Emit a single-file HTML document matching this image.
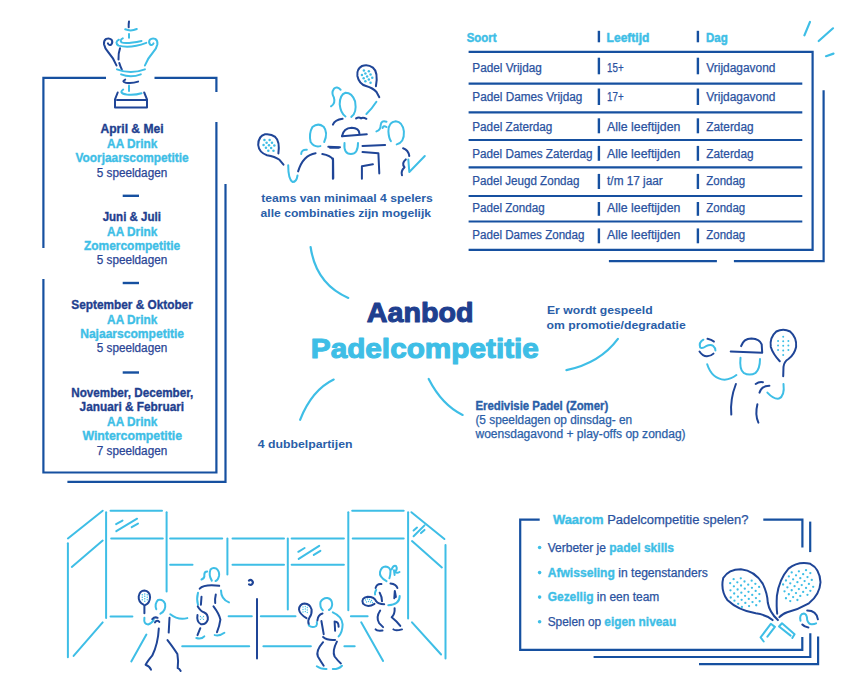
<!DOCTYPE html>
<html><head><meta charset="utf-8">
<style>
html,body{margin:0;padding:0;background:#fff;}
body{width:848px;height:698px;overflow:hidden;}
svg{display:block;font-family:"Liberation Sans",sans-serif;}
</style></head><body>
<svg width="848" height="698" viewBox="0 0 848 698">
<polyline points="106,77.8 43.4,77.8 43.4,248" fill="none" stroke="#1650a0" stroke-width="2.2" stroke-linecap="butt" stroke-linejoin="miter"/>
<polyline points="154.5,77.8 216.4,77.8 216.4,92" fill="none" stroke="#1650a0" stroke-width="2.2" stroke-linecap="butt" stroke-linejoin="miter"/>
<polyline points="43.4,279 43.4,472.5 216.4,472.5 216.4,122" fill="none" stroke="#1650a0" stroke-width="2.2" stroke-linecap="butt" stroke-linejoin="miter"/>
<polyline points="67.4,481.9 225.5,481.9 225.5,184" fill="none" stroke="#1650a0" stroke-width="2.2" stroke-linecap="butt" stroke-linejoin="miter"/>
<text x="100.50" y="133.1" font-size="12" fill="#1f3f8f" font-weight="bold" stroke="#1f3f8f" stroke-width="0.35" stroke-linejoin="round" textLength="63.07" lengthAdjust="spacingAndGlyphs">April &amp; Mei</text>
<text x="107.10" y="147.6" font-size="12" fill="#3ebee6" font-weight="bold" stroke="#3ebee6" stroke-width="0.35" stroke-linejoin="round" textLength="50.16" lengthAdjust="spacingAndGlyphs">AA Drink</text>
<text x="75.50" y="162.4" font-size="12" fill="#3ebee6" font-weight="bold" stroke="#3ebee6" stroke-width="0.35" stroke-linejoin="round" textLength="113.20" lengthAdjust="spacingAndGlyphs">Voorjaarscompetitie</text>
<text x="96.80" y="176.9" font-size="12" fill="#2a4596" stroke="#2a4596" stroke-width="0.25" stroke-linejoin="round" textLength="70.41" lengthAdjust="spacingAndGlyphs">5 speeldagen</text>
<text x="102.70" y="221.1" font-size="12" fill="#1f3f8f" font-weight="bold" stroke="#1f3f8f" stroke-width="0.35" stroke-linejoin="round" textLength="58.21" lengthAdjust="spacingAndGlyphs">Juni &amp; Juli</text>
<text x="107.10" y="235.5" font-size="12" fill="#3ebee6" font-weight="bold" stroke="#3ebee6" stroke-width="0.35" stroke-linejoin="round" textLength="50.16" lengthAdjust="spacingAndGlyphs">AA Drink</text>
<text x="84.00" y="249.9" font-size="12" fill="#3ebee6" font-weight="bold" stroke="#3ebee6" stroke-width="0.35" stroke-linejoin="round" textLength="96.13" lengthAdjust="spacingAndGlyphs">Zomercompetitie</text>
<text x="96.80" y="264.4" font-size="12" fill="#2a4596" stroke="#2a4596" stroke-width="0.25" stroke-linejoin="round" textLength="70.41" lengthAdjust="spacingAndGlyphs">5 speeldagen</text>
<text x="71.30" y="309" font-size="12" fill="#1f3f8f" font-weight="bold" stroke="#1f3f8f" stroke-width="0.35" stroke-linejoin="round" textLength="121.51" lengthAdjust="spacingAndGlyphs">September &amp; Oktober</text>
<text x="107.10" y="323.5" font-size="12" fill="#3ebee6" font-weight="bold" stroke="#3ebee6" stroke-width="0.35" stroke-linejoin="round" textLength="50.16" lengthAdjust="spacingAndGlyphs">AA Drink</text>
<text x="80.20" y="337.9" font-size="12" fill="#3ebee6" font-weight="bold" stroke="#3ebee6" stroke-width="0.35" stroke-linejoin="round" textLength="103.90" lengthAdjust="spacingAndGlyphs">Najaarscompetitie</text>
<text x="96.80" y="352.4" font-size="12" fill="#2a4596" stroke="#2a4596" stroke-width="0.25" stroke-linejoin="round" textLength="70.41" lengthAdjust="spacingAndGlyphs">5 speeldagen</text>
<text x="71.30" y="397.3" font-size="12" fill="#1f3f8f" font-weight="bold" stroke="#1f3f8f" stroke-width="0.35" stroke-linejoin="round" textLength="122.00" lengthAdjust="spacingAndGlyphs">November, December,</text>
<text x="79.60" y="411.4" font-size="12" fill="#1f3f8f" font-weight="bold" stroke="#1f3f8f" stroke-width="0.35" stroke-linejoin="round" textLength="104.51" lengthAdjust="spacingAndGlyphs">Januari &amp; Februari</text>
<text x="107.10" y="425.9" font-size="12" fill="#3ebee6" font-weight="bold" stroke="#3ebee6" stroke-width="0.35" stroke-linejoin="round" textLength="50.16" lengthAdjust="spacingAndGlyphs">AA Drink</text>
<text x="82.40" y="440.3" font-size="12" fill="#3ebee6" font-weight="bold" stroke="#3ebee6" stroke-width="0.35" stroke-linejoin="round" textLength="99.68" lengthAdjust="spacingAndGlyphs">Wintercompetitie</text>
<text x="96.80" y="454.6" font-size="12" fill="#2a4596" stroke="#2a4596" stroke-width="0.25" stroke-linejoin="round" textLength="70.41" lengthAdjust="spacingAndGlyphs">7 speeldagen</text>
<line x1="122.7" y1="195.8" x2="139" y2="195.8" stroke="#1650a0" stroke-width="2.4" stroke-linecap="butt"/>
<line x1="122.7" y1="283" x2="139" y2="283" stroke="#1650a0" stroke-width="2.4" stroke-linecap="butt"/>
<line x1="122.7" y1="372.5" x2="139" y2="372.5" stroke="#1650a0" stroke-width="2.4" stroke-linecap="butt"/>
<polyline points="468.6,51.8 812.6,51.8 812.6,249.9 468.6,249.9" fill="none" stroke="#1650a0" stroke-width="2.2" stroke-linecap="butt" stroke-linejoin="miter"/>
<line x1="468.6" y1="83.7" x2="802.3" y2="83.7" stroke="#1650a0" stroke-width="2.2" stroke-linecap="butt"/>
<line x1="468.6" y1="112.3" x2="802.3" y2="112.3" stroke="#1650a0" stroke-width="2.2" stroke-linecap="butt"/>
<line x1="468.6" y1="140" x2="802.3" y2="140" stroke="#1650a0" stroke-width="2.2" stroke-linecap="butt"/>
<line x1="468.6" y1="167.4" x2="802.3" y2="167.4" stroke="#1650a0" stroke-width="2.2" stroke-linecap="butt"/>
<line x1="468.6" y1="196" x2="802.3" y2="196" stroke="#1650a0" stroke-width="2.2" stroke-linecap="butt"/>
<line x1="468.6" y1="221.5" x2="802.3" y2="221.5" stroke="#1650a0" stroke-width="2.2" stroke-linecap="butt"/>
<polyline points="608.9,261.2 716.9,261.2" fill="none" stroke="#1650a0" stroke-width="2.2" stroke-linecap="butt" stroke-linejoin="miter"/>
<polyline points="733.9,261.2 823.6,261.2 823.6,90.3" fill="none" stroke="#1650a0" stroke-width="2.2" stroke-linecap="butt" stroke-linejoin="miter"/>
<line x1="804.4" y1="35.3" x2="810" y2="21.9" stroke="#3ebee6" stroke-width="2.2" stroke-linecap="round"/>
<line x1="818.7" y1="41" x2="833" y2="28.3" stroke="#3ebee6" stroke-width="2.2" stroke-linecap="round"/>
<line x1="826" y1="56.2" x2="833.5" y2="53.6" stroke="#3ebee6" stroke-width="2.2" stroke-linecap="round"/>
<text x="466.70" y="41.7" font-size="12" fill="#3ebee6" font-weight="bold" stroke="#3ebee6" stroke-width="0.45" stroke-linejoin="round" textLength="29.81" lengthAdjust="spacingAndGlyphs">Soort</text>
<text x="606.60" y="41.7" font-size="12" fill="#3ebee6" font-weight="bold" stroke="#3ebee6" stroke-width="0.45" stroke-linejoin="round" textLength="42.81" lengthAdjust="spacingAndGlyphs">Leeftijd</text>
<text x="706.00" y="41.7" font-size="12" fill="#3ebee6" font-weight="bold" stroke="#3ebee6" stroke-width="0.45" stroke-linejoin="round" textLength="21.69" lengthAdjust="spacingAndGlyphs">Dag</text>
<line x1="598.9" y1="30.8" x2="598.9" y2="42.3" stroke="#1650a0" stroke-width="2.4" stroke-linecap="butt"/>
<line x1="697.9" y1="30.8" x2="697.9" y2="42.3" stroke="#1650a0" stroke-width="2.4" stroke-linecap="butt"/>
<text x="472.30" y="71.6" font-size="12" fill="#2a52a0" stroke="#2a52a0" stroke-width="0.25" stroke-linejoin="round" textLength="69.52" lengthAdjust="spacingAndGlyphs">Padel Vrijdag</text>
<text x="607.10" y="71.6" font-size="12" fill="#2a52a0" stroke="#2a52a0" stroke-width="0.25" stroke-linejoin="round" textLength="16.51" lengthAdjust="spacingAndGlyphs">15+</text>
<text x="706.30" y="71.6" font-size="12" fill="#2a52a0" stroke="#2a52a0" stroke-width="0.25" stroke-linejoin="round" textLength="69.11" lengthAdjust="spacingAndGlyphs">Vrijdagavond</text>
<line x1="598.9" y1="57.7" x2="598.9" y2="74.3" stroke="#1650a0" stroke-width="2.4" stroke-linecap="butt"/>
<line x1="697.9" y1="57.7" x2="697.9" y2="74.3" stroke="#1650a0" stroke-width="2.4" stroke-linecap="butt"/>
<text x="472.30" y="101.1" font-size="12" fill="#2a52a0" stroke="#2a52a0" stroke-width="0.25" stroke-linejoin="round" textLength="110.02" lengthAdjust="spacingAndGlyphs">Padel Dames Vrijdag</text>
<text x="607.10" y="101.1" font-size="12" fill="#2a52a0" stroke="#2a52a0" stroke-width="0.25" stroke-linejoin="round" textLength="16.51" lengthAdjust="spacingAndGlyphs">17+</text>
<text x="706.30" y="101.1" font-size="12" fill="#2a52a0" stroke="#2a52a0" stroke-width="0.25" stroke-linejoin="round" textLength="69.11" lengthAdjust="spacingAndGlyphs">Vrijdagavond</text>
<line x1="598.9" y1="88.5" x2="598.9" y2="105" stroke="#1650a0" stroke-width="2.4" stroke-linecap="butt"/>
<line x1="697.9" y1="88.5" x2="697.9" y2="105" stroke="#1650a0" stroke-width="2.4" stroke-linecap="butt"/>
<text x="472.30" y="131.0" font-size="12" fill="#2a52a0" stroke="#2a52a0" stroke-width="0.25" stroke-linejoin="round" textLength="80.08" lengthAdjust="spacingAndGlyphs">Padel Zaterdag</text>
<text x="607.10" y="131.0" font-size="12" fill="#2a52a0" stroke="#2a52a0" stroke-width="0.25" stroke-linejoin="round" textLength="73.28" lengthAdjust="spacingAndGlyphs">Alle leeftijden</text>
<text x="706.30" y="131.0" font-size="12" fill="#2a52a0" stroke="#2a52a0" stroke-width="0.25" stroke-linejoin="round" textLength="47.27" lengthAdjust="spacingAndGlyphs">Zaterdag</text>
<line x1="598.9" y1="118.3" x2="598.9" y2="133.3" stroke="#1650a0" stroke-width="2.4" stroke-linecap="butt"/>
<line x1="697.9" y1="118.3" x2="697.9" y2="133.3" stroke="#1650a0" stroke-width="2.4" stroke-linecap="butt"/>
<text x="472.30" y="157.7" font-size="12" fill="#2a52a0" stroke="#2a52a0" stroke-width="0.25" stroke-linejoin="round" textLength="120.28" lengthAdjust="spacingAndGlyphs">Padel Dames Zaterdag</text>
<text x="607.10" y="157.7" font-size="12" fill="#2a52a0" stroke="#2a52a0" stroke-width="0.25" stroke-linejoin="round" textLength="73.28" lengthAdjust="spacingAndGlyphs">Alle leeftijden</text>
<text x="706.30" y="157.7" font-size="12" fill="#2a52a0" stroke="#2a52a0" stroke-width="0.25" stroke-linejoin="round" textLength="47.27" lengthAdjust="spacingAndGlyphs">Zaterdag</text>
<line x1="598.9" y1="145.9" x2="598.9" y2="160.8" stroke="#1650a0" stroke-width="2.4" stroke-linecap="butt"/>
<line x1="697.9" y1="145.9" x2="697.9" y2="160.8" stroke="#1650a0" stroke-width="2.4" stroke-linecap="butt"/>
<text x="472.30" y="185.0" font-size="12" fill="#2a52a0" stroke="#2a52a0" stroke-width="0.25" stroke-linejoin="round" textLength="107.20" lengthAdjust="spacingAndGlyphs">Padel Jeugd Zondag</text>
<text x="607.10" y="185.0" font-size="12" fill="#2a52a0" stroke="#2a52a0" stroke-width="0.25" stroke-linejoin="round" textLength="55.69" lengthAdjust="spacingAndGlyphs">t/m 17 jaar</text>
<text x="706.30" y="185.0" font-size="12" fill="#2a52a0" stroke="#2a52a0" stroke-width="0.25" stroke-linejoin="round" textLength="38.92" lengthAdjust="spacingAndGlyphs">Zondag</text>
<line x1="598.9" y1="173.9" x2="598.9" y2="189" stroke="#1650a0" stroke-width="2.4" stroke-linecap="butt"/>
<line x1="697.9" y1="173.9" x2="697.9" y2="189" stroke="#1650a0" stroke-width="2.4" stroke-linecap="butt"/>
<text x="472.30" y="211.8" font-size="12" fill="#2a52a0" stroke="#2a52a0" stroke-width="0.25" stroke-linejoin="round" textLength="72.33" lengthAdjust="spacingAndGlyphs">Padel Zondag</text>
<text x="607.10" y="211.8" font-size="12" fill="#2a52a0" stroke="#2a52a0" stroke-width="0.25" stroke-linejoin="round" textLength="73.28" lengthAdjust="spacingAndGlyphs">Alle leeftijden</text>
<text x="706.30" y="211.8" font-size="12" fill="#2a52a0" stroke="#2a52a0" stroke-width="0.25" stroke-linejoin="round" textLength="38.92" lengthAdjust="spacingAndGlyphs">Zondag</text>
<line x1="598.9" y1="202" x2="598.9" y2="215.8" stroke="#1650a0" stroke-width="2.4" stroke-linecap="butt"/>
<line x1="697.9" y1="202" x2="697.9" y2="215.8" stroke="#1650a0" stroke-width="2.4" stroke-linecap="butt"/>
<text x="472.30" y="238.6" font-size="12" fill="#2a52a0" stroke="#2a52a0" stroke-width="0.25" stroke-linejoin="round" textLength="112.17" lengthAdjust="spacingAndGlyphs">Padel Dames Zondag</text>
<text x="607.10" y="238.6" font-size="12" fill="#2a52a0" stroke="#2a52a0" stroke-width="0.25" stroke-linejoin="round" textLength="73.28" lengthAdjust="spacingAndGlyphs">Alle leeftijden</text>
<text x="706.30" y="238.6" font-size="12" fill="#2a52a0" stroke="#2a52a0" stroke-width="0.25" stroke-linejoin="round" textLength="38.92" lengthAdjust="spacingAndGlyphs">Zondag</text>
<line x1="598.9" y1="228.4" x2="598.9" y2="243.3" stroke="#1650a0" stroke-width="2.4" stroke-linecap="butt"/>
<line x1="697.9" y1="228.4" x2="697.9" y2="243.3" stroke="#1650a0" stroke-width="2.4" stroke-linecap="butt"/>
<text x="366.80" y="321.8" font-size="27.5" fill="#1f3f8f" font-weight="bold" stroke="#1f3f8f" stroke-width="1.1" stroke-linejoin="round" textLength="106.75" lengthAdjust="spacingAndGlyphs">Aanbod</text>
<text x="310.80" y="357.8" font-size="27.5" fill="#3ebee6" font-weight="bold" stroke="#3ebee6" stroke-width="1.1" stroke-linejoin="round" textLength="228.07" lengthAdjust="spacingAndGlyphs">Padelcompetitie</text>
<text x="261.30" y="202.4" font-size="11.5" fill="#2a5ea8" font-weight="bold" textLength="171.48" lengthAdjust="spacingAndGlyphs">teams van minimaal 4 spelers</text>
<text x="260.60" y="216.6" font-size="11.5" fill="#2a5ea8" font-weight="bold" textLength="170.43" lengthAdjust="spacingAndGlyphs">alle combinaties zijn mogelijk</text>
<text x="257.70" y="448.3" font-size="11.5" fill="#2a5ea8" font-weight="bold" textLength="94.78" lengthAdjust="spacingAndGlyphs">4 dubbelpartijen</text>
<text x="547.00" y="314.4" font-size="11.5" fill="#2a5ea8" font-weight="bold" textLength="105.58" lengthAdjust="spacingAndGlyphs">Er wordt gespeeld</text>
<text x="546.60" y="329" font-size="11.5" fill="#2a5ea8" font-weight="bold" textLength="139.11" lengthAdjust="spacingAndGlyphs">om promotie/degradatie</text>
<text x="475.40" y="410.3" font-size="12" fill="#2a5ea8" font-weight="bold" stroke="#2a5ea8" stroke-width="0.35" stroke-linejoin="round" textLength="132.91" lengthAdjust="spacingAndGlyphs">Eredivisie Padel (Zomer)</text>
<text x="475.40" y="423.9" font-size="12" fill="#2a5ea8" stroke="#2a5ea8" stroke-width="0.25" stroke-linejoin="round" textLength="156.77" lengthAdjust="spacingAndGlyphs">(5 speeldagen op dinsdag- en</text>
<text x="475.46" y="438.3" font-size="12" fill="#2a5ea8" stroke="#2a5ea8" stroke-width="0.25" stroke-linejoin="round" textLength="210.16" lengthAdjust="spacingAndGlyphs">woensdagavond + play-offs op zondag)</text>
<path d="M310.6,247 Q316,284 348.3,297.9" fill="none" stroke="#3ebee6" stroke-width="2.2" stroke-linecap="round"/>
<path d="M300.1,419.8 Q312,390 333.7,379.6" fill="none" stroke="#3ebee6" stroke-width="2.2" stroke-linecap="round"/>
<path d="M428.7,379 Q442,405 462.6,414.9" fill="none" stroke="#3ebee6" stroke-width="2.2" stroke-linecap="round"/>
<path d="M566.4,370.1 Q600,363 617.9,338.8" fill="none" stroke="#3ebee6" stroke-width="2.2" stroke-linecap="round"/>
<polyline points="539.7,519.7 520.2,519.7 520.2,649.8 802.3,649.8 802.3,636.9" fill="none" stroke="#1650a0" stroke-width="2.2" stroke-linecap="butt" stroke-linejoin="miter"/>
<polyline points="763.3,519.7 802.4,519.7 802.4,547.4" fill="none" stroke="#1650a0" stroke-width="2.2" stroke-linecap="butt" stroke-linejoin="miter"/>
<line x1="810.2" y1="521.6" x2="810.2" y2="552.1" stroke="#1650a0" stroke-width="2.2" stroke-linecap="butt"/>
<polyline points="593.6,657 810.3,657 810.3,633.2" fill="none" stroke="#1650a0" stroke-width="2.2" stroke-linecap="butt" stroke-linejoin="miter"/>
<polyline points="699,664.2 818.1,664.2 818.1,636.4" fill="none" stroke="#1650a0" stroke-width="2.2" stroke-linecap="butt" stroke-linejoin="miter"/>
<text x="552.90" y="523.9" font-size="12" textLength="195.59" lengthAdjust="spacingAndGlyphs" xml:space="preserve"><tspan fill="#3ebee6" stroke="#3ebee6" stroke-width="0.35" font-weight="bold">Waarom</tspan><tspan fill="#2a52a0" stroke="#2a52a0" stroke-width="0.25"> Padelcompetitie spelen?</tspan></text>
<circle cx="539.6" cy="547.5" r="1.8" fill="#3ebee6"/>
<text x="547.70" y="551.8" font-size="12" textLength="126.32" lengthAdjust="spacingAndGlyphs" xml:space="preserve"><tspan fill="#2a52a0" stroke="#2a52a0" stroke-width="0.25">Verbeter je </tspan><tspan fill="#3ebee6" stroke="#3ebee6" stroke-width="0.35" font-weight="bold">padel skills</tspan></text>
<circle cx="539.6" cy="572.6" r="1.8" fill="#3ebee6"/>
<text x="547.70" y="576.9" font-size="12" textLength="160.02" lengthAdjust="spacingAndGlyphs" xml:space="preserve"><tspan fill="#3ebee6" stroke="#3ebee6" stroke-width="0.35" font-weight="bold">Afwisseling</tspan><tspan fill="#2a52a0" stroke="#2a52a0" stroke-width="0.25"> in tegenstanders</tspan></text>
<circle cx="539.6" cy="597.1" r="1.8" fill="#3ebee6"/>
<text x="547.70" y="601.4" font-size="12" textLength="111.58" lengthAdjust="spacingAndGlyphs" xml:space="preserve"><tspan fill="#3ebee6" stroke="#3ebee6" stroke-width="0.35" font-weight="bold">Gezellig</tspan><tspan fill="#2a52a0" stroke="#2a52a0" stroke-width="0.25"> in een team</tspan></text>
<circle cx="539.6" cy="621.7" r="1.8" fill="#3ebee6"/>
<text x="547.70" y="626" font-size="12" textLength="128.47" lengthAdjust="spacingAndGlyphs" xml:space="preserve"><tspan fill="#2a52a0" stroke="#2a52a0" stroke-width="0.25">Spelen op </tspan><tspan fill="#3ebee6" stroke="#3ebee6" stroke-width="0.35" font-weight="bold">eigen niveau</tspan></text>
<path d="M 129.0,21.5 Q 128.5,24.5 128.7,27.2" fill="none" stroke="#1f4597" stroke-width="2.0" stroke-linecap="round" stroke-linejoin="round"/>
<path d="M 125.2,29.3 Q 130.9,31.6 136.8,29.0" fill="none" stroke="#3ebee6" stroke-width="2.0" stroke-linecap="round" stroke-linejoin="round"/>
<path d="M 129.0,34.0 L 129.0,37.8" fill="none" stroke="#3ebee6" stroke-width="2.0" stroke-linecap="round" stroke-linejoin="round"/>
<path d="M122.8,38.4 Q119.5,40 121.5,42.4 Q126,44.2 141.5,41" fill="none" stroke="#3ebee6" stroke-width="2.0" stroke-linecap="round" stroke-linejoin="round"/>
<path d="M118.9,39.7 Q114.2,42.3 118.5,45.6 Q130,48.8 146.3,42.9" fill="none" stroke="#3ebee6" stroke-width="2.0" stroke-linecap="round" stroke-linejoin="round"/>
<path d="M107.9,43.4 Q109,45.8 111.2,44.6 Q113.2,42.2 111.6,39.8 Q109.2,37.6 106.2,38.9 Q103.6,40.5 104,44.2 Q104.8,48.5 108.5,52.5 Q113.5,58 116.5,65.5" fill="none" stroke="#1f4597" stroke-width="2.0" stroke-linecap="round" stroke-linejoin="round"/>
<path d="M153.5,43.4 Q152.4,45.8 150.2,44.6 Q148.2,42.2 149.8,39.8 Q152.2,37.6 155.2,38.9 Q157.8,40.5 157.4,44.2 Q156.6,48.5 152.9,52.5 Q147.9,58 144.9,65.5" fill="none" stroke="#3ebee6" stroke-width="2.0" stroke-linecap="round" stroke-linejoin="round"/>
<path d="M120,48.3 Q118.2,53 118.5,59.5" fill="none" stroke="#1f4597" stroke-width="2.0" stroke-linecap="round" stroke-linejoin="round"/>
<path d="M119.3,63 Q120.3,66.5 121.8,69.4" fill="none" stroke="#1f4597" stroke-width="2.0" stroke-linecap="round" stroke-linejoin="round"/>
<path d="M 117.0,69.4 Q 130.6,74.8 144.9,69.4" fill="none" stroke="#3ebee6" stroke-width="2.0" stroke-linecap="round" stroke-linejoin="round"/>
<path d="M 121.1,74.4 Q 130.6,78.2 140.8,74.4" fill="none" stroke="#3ebee6" stroke-width="2.0" stroke-linecap="round" stroke-linejoin="round"/>
<path d="M 125.2,79.6 Q 121.1,81.6 125.9,82.7 Q 132.0,83.7 138.1,81.6" fill="none" stroke="#1f4597" stroke-width="2.0" stroke-linecap="round" stroke-linejoin="round"/>
<path d="M 129.0,85.4 L 129.0,91.1" fill="none" stroke="#3ebee6" stroke-width="2.0" stroke-linecap="round" stroke-linejoin="round"/>
<path d="M 123.2,89.5 Q 118.4,93.2 126.6,94.5 Q 135.4,95.2 141.5,93.2" fill="none" stroke="#3ebee6" stroke-width="2.0" stroke-linecap="round" stroke-linejoin="round"/>
<path d="M 117.7,92.5 L 115.0,99.3 L 115.0,107.5 L 147.0,107.5 L 147.0,99.3 L 144.2,92.5" fill="none" stroke="#1f4597" stroke-width="2.0" stroke-linecap="round" stroke-linejoin="round"/>
<path d="M 117.0,100.0 L 146.3,100.0" fill="none" stroke="#1f4597" stroke-width="2.0" stroke-linecap="round" stroke-linejoin="round"/>
<path d="M278.4,153.4 Q280,141 275.2,136.9 Q271,133.5 265,134.3 Q258.3,136 258.2,145 Q259,152.5 267,155.2 Q275,156.5 279.5,159.8 L283.5,164.7" fill="none" stroke="#1f4597" stroke-width="2.0" stroke-linecap="round" stroke-linejoin="round"/>
<path d="M 288.2,165.3 Q 288.2,179.2 292.5,182.0 Q 296.6,182.0 297.5,175.5" fill="none" stroke="#3ebee6" stroke-width="2.0" stroke-linecap="round" stroke-linejoin="round"/>
<path d="M 298.1,171.4 Q 303.1,155.0 315.6,153.2" fill="none" stroke="#1f4597" stroke-width="2.0" stroke-linecap="round" stroke-linejoin="round"/>
<path d="M 322.3,154.1 Q 330.5,155.4 333.1,159.7 L 333.3,178.3" fill="none" stroke="#1f4597" stroke-width="2.0" stroke-linecap="round" stroke-linejoin="round"/>
<path d="M 324.2,142.0 Q 328.3,132.7 323.6,126.7 Q 318.0,122.4 312.4,127.1 Q 308.7,133.6 310.6,142.0 Q 314.3,147.6 320.4,146.1" fill="none" stroke="#3ebee6" stroke-width="2.0" stroke-linecap="round" stroke-linejoin="round"/>
<path d="M 301.2,154.1 Q 301.2,149.4 306.8,149.8" fill="none" stroke="#3ebee6" stroke-width="2.0" stroke-linecap="round" stroke-linejoin="round"/>
<path d="M 328.3,146.8 L 340.0,147.2" fill="none" stroke="#1f4597" stroke-width="2.0" stroke-linecap="round" stroke-linejoin="round"/>
<path d="M375.9,86.3 Q378.5,72 372.9,67.6 Q368,64 362,66 Q356.5,69 357.4,76 Q359,84 366,86 Q373,88 376.5,92 L379.3,97.2" fill="none" stroke="#1f4597" stroke-width="2.0" stroke-linecap="round" stroke-linejoin="round"/>
<path d="M 376.4,101.8 Q 371.6,109.2 366.4,114.0" fill="none" stroke="#3ebee6" stroke-width="2.0" stroke-linecap="round" stroke-linejoin="round"/>
<path d="M 351.3,116.9 Q 357.1,113.0 355.1,101.4 Q 352.2,92.7 345.5,92.7 Q 339.7,94.7 339.7,104.3 Q 340.6,113.0 345.5,116.5" fill="none" stroke="#3ebee6" stroke-width="2.0" stroke-linecap="round" stroke-linejoin="round"/>
<path d="M 340.6,89.8 Q 336.8,85.9 333.9,88.8 Q 331.0,92.7 333.9,97.6 Q 335.8,103.4 331.0,106.3" fill="none" stroke="#3ebee6" stroke-width="2.0" stroke-linecap="round" stroke-linejoin="round"/>
<path d="M 332.9,124.6 Q 334.8,119.8 342.6,118.8" fill="none" stroke="#1f4597" stroke-width="2.0" stroke-linecap="round" stroke-linejoin="round"/>
<path d="M 356.1,118.4 Q 359.0,116.5 360.9,118.4 Q 362.9,116.9 366.4,118.8" fill="none" stroke="#1f4597" stroke-width="2.0" stroke-linecap="round" stroke-linejoin="round"/>
<path d="M 342.0,136.2 Q 343.5,128.1 351.7,127.7 Q 359.0,128.1 359.4,133.3" fill="none" stroke="#1f4597" stroke-width="2.0" stroke-linecap="round" stroke-linejoin="round"/>
<path d="M 342.0,136.2 L 366.8,134.3" fill="none" stroke="#1f4597" stroke-width="2.0" stroke-linecap="round" stroke-linejoin="round"/>
<path d="M 344.5,143.0 Q 343.5,154.0 350.9,154.0 Q 358.0,154.0 358.0,143.0" fill="none" stroke="#3ebee6" stroke-width="2.0" stroke-linecap="round" stroke-linejoin="round"/>
<path d="M 330.0,147.8 L 338.7,147.8" fill="none" stroke="#1f4597" stroke-width="2.0" stroke-linecap="round" stroke-linejoin="round"/>
<path d="M 362.5,145.9 L 385.1,145.1" fill="none" stroke="#1f4597" stroke-width="2.0" stroke-linecap="round" stroke-linejoin="round"/>
<path d="M 332.9,158.5 L 332.9,178.8" fill="none" stroke="#1f4597" stroke-width="2.0" stroke-linecap="round" stroke-linejoin="round"/>
<path d="M 362.5,152.1 L 378.4,153.3 L 379.3,173.4" fill="none" stroke="#1f4597" stroke-width="2.0" stroke-linecap="round" stroke-linejoin="round"/>
<path d="M 361.9,178.8 L 361.9,166.2 L 372.9,164.3" fill="none" stroke="#1f4597" stroke-width="2.0" stroke-linecap="round" stroke-linejoin="round"/>
<path d="M 396.7,144.4 Q 404.5,142.4 403.9,131.4 Q 402.5,121.7 395.8,121.2 Q 388.4,121.7 388.4,131.4 Q 388.8,138.2 390.9,141.1" fill="none" stroke="#3ebee6" stroke-width="2.0" stroke-linecap="round" stroke-linejoin="round"/>
<path d="M 386.5,121.7 Q 381.3,119.8 380.7,125.0 Q 380.7,130.0 376.4,131.4" fill="none" stroke="#3ebee6" stroke-width="2.0" stroke-linecap="round" stroke-linejoin="round"/>
<path d="M 382.6,128.1 Q 383.4,125.0 386.5,127.0" fill="none" stroke="#3ebee6" stroke-width="2.0" stroke-linecap="round" stroke-linejoin="round"/>
<path d="M 403.1,148.2 Q 408.3,149.8 409.3,156.0" fill="none" stroke="#1f4597" stroke-width="2.0" stroke-linecap="round" stroke-linejoin="round"/>
<path d="M 405.8,159.4 Q 401.2,163.3 404.5,167.2 Q 400.6,171.1 402.0,175.3" fill="none" stroke="#1f4597" stroke-width="2.0" stroke-linecap="round" stroke-linejoin="round"/>
<path d="M 408.3,159.4 L 409.3,172.0 L 424.8,156.0" fill="none" stroke="#3ebee6" stroke-width="2.0" stroke-linecap="round" stroke-linejoin="round"/>
<circle cx="264.45" cy="140.10" r="1.25" fill="#3ebee6"/>
<circle cx="269.61" cy="140.10" r="1.25" fill="#3ebee6"/>
<circle cx="266.60" cy="142.68" r="1.25" fill="#3ebee6"/>
<circle cx="271.97" cy="142.68" r="1.25" fill="#3ebee6"/>
<circle cx="263.59" cy="145.04" r="1.25" fill="#3ebee6"/>
<circle cx="268.97" cy="145.26" r="1.25" fill="#3ebee6"/>
<circle cx="274.34" cy="145.47" r="1.25" fill="#3ebee6"/>
<circle cx="265.96" cy="147.83" r="1.25" fill="#3ebee6"/>
<circle cx="271.12" cy="148.05" r="1.25" fill="#3ebee6"/>
<circle cx="268.32" cy="150.63" r="1.25" fill="#3ebee6"/>
<circle cx="273.48" cy="150.84" r="1.25" fill="#3ebee6"/>
<circle cx="363.88" cy="70.38" r="1.25" fill="#3ebee6"/>
<circle cx="368.83" cy="71.24" r="1.25" fill="#3ebee6"/>
<circle cx="365.39" cy="73.39" r="1.25" fill="#3ebee6"/>
<circle cx="370.54" cy="74.46" r="1.25" fill="#3ebee6"/>
<circle cx="361.95" cy="75.11" r="1.25" fill="#3ebee6"/>
<circle cx="367.11" cy="76.40" r="1.25" fill="#3ebee6"/>
<circle cx="372.26" cy="77.69" r="1.25" fill="#3ebee6"/>
<circle cx="363.67" cy="78.33" r="1.25" fill="#3ebee6"/>
<circle cx="368.83" cy="79.40" r="1.25" fill="#3ebee6"/>
<circle cx="365.39" cy="81.34" r="1.25" fill="#3ebee6"/>
<circle cx="370.54" cy="82.63" r="1.25" fill="#3ebee6"/>
<path d="M703.4,339.7 Q698.5,342.5 700.2,347.5 Q702,349 706,346.2 Q710.5,343.8 713,345.8 Q715.5,348 715.4,350.4" fill="none" stroke="#3ebee6" stroke-width="2.0" stroke-linecap="round" stroke-linejoin="round"/>
<path d="M699.5,351.5 Q703,356.5 707,356.3 Q711,356 713.5,353.6" fill="none" stroke="#1f4597" stroke-width="2.0" stroke-linecap="round" stroke-linejoin="round"/>
<path d="M707.5,338.8 Q711.5,339.5 713.9,341.6" fill="none" stroke="#1f4597" stroke-width="2.0" stroke-linecap="round" stroke-linejoin="round"/>
<path d="M 707.2,364.2 Q 711.8,378.8 724.7,379.7 Q 731.6,378.8 736.4,375.0" fill="none" stroke="#3ebee6" stroke-width="2.0" stroke-linecap="round" stroke-linejoin="round"/>
<path d="M 741.1,346.1 Q 743.6,338.4 751.4,338.4 Q 760.0,338.9 761.7,344.4 L 762.2,352.7 L 730.7,351.6" fill="none" stroke="#1f4597" stroke-width="2.0" stroke-linecap="round" stroke-linejoin="round"/>
<path d="M 740.5,357.8 Q 739.3,369.3 743.6,372.8 Q 749.7,376.2 755.7,372.8 Q 760.0,368.5 760.0,359.0" fill="none" stroke="#3ebee6" stroke-width="2.0" stroke-linecap="round" stroke-linejoin="round"/>
<path d="M 779.8,361.3 Q 772.9,353.9 770.8,347.0 Q 769.4,337.5 776.3,331.5 Q 783.2,328.1 790.1,331.5 Q 797.0,337.5 796.1,347.0 Q 794.4,354.7 788.4,359.0 Q 784.1,361.6 783.5,366.8 L 783.2,376.2" fill="none" stroke="#1f4597" stroke-width="2.0" stroke-linecap="round" stroke-linejoin="round"/>
<path d="M 735.9,384.0 Q 729.9,399.4 731.3,414.6" fill="none" stroke="#1f4597" stroke-width="2.0" stroke-linecap="round" stroke-linejoin="round"/>
<path d="M 755.7,384.0 Q 759.1,381.4 762.9,382.2" fill="none" stroke="#1f4597" stroke-width="2.0" stroke-linecap="round" stroke-linejoin="round"/>
<path d="M 759.5,392.6 Q 761.7,385.7 769.4,385.7" fill="none" stroke="#1f4597" stroke-width="2.0" stroke-linecap="round" stroke-linejoin="round"/>
<path d="M 767.4,392.6 Q 773.7,399.4 778.9,398.6 Q 784.9,396.0 783.5,384.0" fill="none" stroke="#3ebee6" stroke-width="2.0" stroke-linecap="round" stroke-linejoin="round"/>
<path d="M 757.4,404.3 Q 754.8,414.9 758.4,422.7" fill="none" stroke="#1f4597" stroke-width="2.0" stroke-linecap="round" stroke-linejoin="round"/>
<circle cx="783.20" cy="336.66" r="1.0" fill="#3ebee6"/>
<circle cx="783.20" cy="341.30" r="1.0" fill="#3ebee6"/>
<circle cx="783.20" cy="345.78" r="1.0" fill="#3ebee6"/>
<circle cx="783.20" cy="350.42" r="1.0" fill="#3ebee6"/>
<circle cx="783.20" cy="355.06" r="1.0" fill="#3ebee6"/>
<circle cx="778.04" cy="340.96" r="1.0" fill="#3ebee6"/>
<circle cx="778.04" cy="345.60" r="1.0" fill="#3ebee6"/>
<circle cx="778.04" cy="350.08" r="1.0" fill="#3ebee6"/>
<circle cx="788.36" cy="340.96" r="1.0" fill="#3ebee6"/>
<circle cx="788.36" cy="345.60" r="1.0" fill="#3ebee6"/>
<circle cx="788.36" cy="350.08" r="1.0" fill="#3ebee6"/>
<path d="M 772.6,620.1 Q 766.7,614.9 755.8,613.3 Q 738.1,610.1 727.3,599.9 Q 720.4,590.4 723.2,578.1 Q 728.6,569.3 740.9,569.3 Q 754.5,570.7 762.7,583.6 Q 767.4,593.1 767.8,602.7 Q 769.5,612.2 777.9,620.1" fill="none" stroke="#1f4597" stroke-width="2.0" stroke-linecap="round" stroke-linejoin="round"/>
<path d="M 777.2,613.7 Q 776.3,606.7 776.9,595.8 Q 779.0,579.5 788.5,568.6 Q 798.0,561.1 810.3,563.8 Q 819.8,568.6 820.5,582.2 Q 819.8,594.5 808.9,603.3 Q 798.0,609.5 787.2,612.2 Q 781.7,614.2 779.4,617.2" fill="none" stroke="#1f4597" stroke-width="2.0" stroke-linecap="round" stroke-linejoin="round"/>
<path d="M 767.4,636.7 L 774.9,626.9 L 770.8,623.8 L 760.6,637.4 L 763.7,641.5" fill="none" stroke="#3ebee6" stroke-width="2.0" stroke-linecap="round" stroke-linejoin="round"/>
<path d="M 790.6,635.6 L 779.0,626.5 L 782.0,623.3 L 794.6,634.2 L 792.3,638.0" fill="none" stroke="#3ebee6" stroke-width="2.0" stroke-linecap="round" stroke-linejoin="round"/>
<path d="M807.2,610.5 Q816.5,610.5 817.9,619.3" fill="none" stroke="#1f4597" stroke-width="2.0" stroke-linecap="round" stroke-linejoin="round"/>
<path d="M802.3,624.5 Q804.5,627 808.4,627.4" fill="none" stroke="#1f4597" stroke-width="2.0" stroke-linecap="round" stroke-linejoin="round"/>
<path d="M800.5,620.8 Q799,614 803.9,613.6 Q807,614 807.2,620 Q808.5,624.5 812,624.2 Q814.5,624 816.1,623.3" fill="none" stroke="#3ebee6" stroke-width="2.0" stroke-linecap="round" stroke-linejoin="round"/>
<circle cx="730.18" cy="583.20" r="1.15" fill="#3ebee6"/>
<circle cx="733.62" cy="579.20" r="1.15" fill="#3ebee6"/>
<circle cx="730.46" cy="590.35" r="1.15" fill="#3ebee6"/>
<circle cx="733.90" cy="586.35" r="1.15" fill="#3ebee6"/>
<circle cx="737.34" cy="582.35" r="1.15" fill="#3ebee6"/>
<circle cx="740.78" cy="578.35" r="1.15" fill="#3ebee6"/>
<circle cx="730.74" cy="597.50" r="1.15" fill="#3ebee6"/>
<circle cx="734.18" cy="593.50" r="1.15" fill="#3ebee6"/>
<circle cx="737.62" cy="589.50" r="1.15" fill="#3ebee6"/>
<circle cx="741.06" cy="585.50" r="1.15" fill="#3ebee6"/>
<circle cx="744.50" cy="581.50" r="1.15" fill="#3ebee6"/>
<circle cx="734.46" cy="600.65" r="1.15" fill="#3ebee6"/>
<circle cx="737.90" cy="596.65" r="1.15" fill="#3ebee6"/>
<circle cx="741.34" cy="592.65" r="1.15" fill="#3ebee6"/>
<circle cx="744.78" cy="588.65" r="1.15" fill="#3ebee6"/>
<circle cx="748.22" cy="584.65" r="1.15" fill="#3ebee6"/>
<circle cx="751.66" cy="580.65" r="1.15" fill="#3ebee6"/>
<circle cx="738.18" cy="603.80" r="1.15" fill="#3ebee6"/>
<circle cx="741.62" cy="599.80" r="1.15" fill="#3ebee6"/>
<circle cx="745.06" cy="595.80" r="1.15" fill="#3ebee6"/>
<circle cx="748.50" cy="591.80" r="1.15" fill="#3ebee6"/>
<circle cx="751.94" cy="587.80" r="1.15" fill="#3ebee6"/>
<circle cx="755.38" cy="583.80" r="1.15" fill="#3ebee6"/>
<circle cx="741.90" cy="606.95" r="1.15" fill="#3ebee6"/>
<circle cx="745.34" cy="602.95" r="1.15" fill="#3ebee6"/>
<circle cx="748.78" cy="598.95" r="1.15" fill="#3ebee6"/>
<circle cx="752.22" cy="594.95" r="1.15" fill="#3ebee6"/>
<circle cx="755.66" cy="590.95" r="1.15" fill="#3ebee6"/>
<circle cx="759.10" cy="586.95" r="1.15" fill="#3ebee6"/>
<circle cx="749.06" cy="606.10" r="1.15" fill="#3ebee6"/>
<circle cx="752.50" cy="602.10" r="1.15" fill="#3ebee6"/>
<circle cx="755.94" cy="598.10" r="1.15" fill="#3ebee6"/>
<circle cx="759.38" cy="594.10" r="1.15" fill="#3ebee6"/>
<circle cx="756.22" cy="605.25" r="1.15" fill="#3ebee6"/>
<circle cx="759.66" cy="601.25" r="1.15" fill="#3ebee6"/>
<circle cx="791.70" cy="572.46" r="1.15" fill="#3ebee6"/>
<circle cx="788.83" cy="576.47" r="1.15" fill="#3ebee6"/>
<circle cx="785.96" cy="580.48" r="1.15" fill="#3ebee6"/>
<circle cx="783.09" cy="584.49" r="1.15" fill="#3ebee6"/>
<circle cx="798.87" cy="571.32" r="1.15" fill="#3ebee6"/>
<circle cx="796.00" cy="575.33" r="1.15" fill="#3ebee6"/>
<circle cx="793.13" cy="579.34" r="1.15" fill="#3ebee6"/>
<circle cx="790.26" cy="583.35" r="1.15" fill="#3ebee6"/>
<circle cx="787.39" cy="587.36" r="1.15" fill="#3ebee6"/>
<circle cx="784.52" cy="591.37" r="1.15" fill="#3ebee6"/>
<circle cx="806.04" cy="570.18" r="1.15" fill="#3ebee6"/>
<circle cx="803.17" cy="574.19" r="1.15" fill="#3ebee6"/>
<circle cx="800.30" cy="578.20" r="1.15" fill="#3ebee6"/>
<circle cx="797.43" cy="582.21" r="1.15" fill="#3ebee6"/>
<circle cx="794.56" cy="586.22" r="1.15" fill="#3ebee6"/>
<circle cx="791.69" cy="590.23" r="1.15" fill="#3ebee6"/>
<circle cx="788.82" cy="594.24" r="1.15" fill="#3ebee6"/>
<circle cx="785.95" cy="598.25" r="1.15" fill="#3ebee6"/>
<circle cx="810.34" cy="573.05" r="1.15" fill="#3ebee6"/>
<circle cx="807.47" cy="577.06" r="1.15" fill="#3ebee6"/>
<circle cx="804.60" cy="581.07" r="1.15" fill="#3ebee6"/>
<circle cx="801.73" cy="585.08" r="1.15" fill="#3ebee6"/>
<circle cx="798.86" cy="589.09" r="1.15" fill="#3ebee6"/>
<circle cx="795.99" cy="593.10" r="1.15" fill="#3ebee6"/>
<circle cx="793.12" cy="597.11" r="1.15" fill="#3ebee6"/>
<circle cx="790.25" cy="601.12" r="1.15" fill="#3ebee6"/>
<circle cx="811.77" cy="579.93" r="1.15" fill="#3ebee6"/>
<circle cx="808.90" cy="583.94" r="1.15" fill="#3ebee6"/>
<circle cx="806.03" cy="587.95" r="1.15" fill="#3ebee6"/>
<circle cx="803.16" cy="591.96" r="1.15" fill="#3ebee6"/>
<circle cx="800.29" cy="595.97" r="1.15" fill="#3ebee6"/>
<circle cx="797.42" cy="599.98" r="1.15" fill="#3ebee6"/>
<circle cx="813.20" cy="586.81" r="1.15" fill="#3ebee6"/>
<circle cx="810.33" cy="590.82" r="1.15" fill="#3ebee6"/>
<circle cx="807.46" cy="594.83" r="1.15" fill="#3ebee6"/>
<path d="M67.9,538.5 L102.7,510.7" fill="none" stroke="#3ebee6" stroke-width="2.0" stroke-linecap="round" stroke-linejoin="round"/>
<path d="M67.9,543.2 L67.9,657.2" fill="none" stroke="#3ebee6" stroke-width="2.0" stroke-linecap="round" stroke-linejoin="round"/>
<path d="M71.8,566.9 L102.7,540.6" fill="none" stroke="#3ebee6" stroke-width="2.0" stroke-linecap="round" stroke-linejoin="round"/>
<path d="M73.6,655.9 L102.7,622.4" fill="none" stroke="#3ebee6" stroke-width="2.0" stroke-linecap="round" stroke-linejoin="round"/>
<path d="M106.1,512.2 L106.1,618" fill="none" stroke="#3ebee6" stroke-width="2.0" stroke-linecap="round" stroke-linejoin="round"/>
<path d="M110.5,510.7 L162,510.7" fill="none" stroke="#3ebee6" stroke-width="2.0" stroke-linecap="round" stroke-linejoin="round"/>
<path d="M111.2,538.5 L162.8,538.5" fill="none" stroke="#3ebee6" stroke-width="2.0" stroke-linecap="round" stroke-linejoin="round"/>
<path d="M166.6,512.2 L166.6,591.4" fill="none" stroke="#3ebee6" stroke-width="2.0" stroke-linecap="round" stroke-linejoin="round"/>
<path d="M170.1,538.5 L222.2,538.5" fill="none" stroke="#3ebee6" stroke-width="2.0" stroke-linecap="round" stroke-linejoin="round"/>
<path d="M170.1,564.8 L192.5,564.8" fill="none" stroke="#3ebee6" stroke-width="2.0" stroke-linecap="round" stroke-linejoin="round"/>
<path d="M227.4,538.5 L227.4,574.6" fill="none" stroke="#3ebee6" stroke-width="2.0" stroke-linecap="round" stroke-linejoin="round"/>
<path d="M232.5,538.5 L284,538.5" fill="none" stroke="#3ebee6" stroke-width="2.0" stroke-linecap="round" stroke-linejoin="round"/>
<path d="M232.5,564.8 L284,564.8" fill="none" stroke="#3ebee6" stroke-width="2.0" stroke-linecap="round" stroke-linejoin="round"/>
<path d="M287.8,538.5 L287.8,609.4" fill="none" stroke="#3ebee6" stroke-width="2.0" stroke-linecap="round" stroke-linejoin="round"/>
<path d="M291.6,538.5 L343.9,538.5" fill="none" stroke="#3ebee6" stroke-width="2.0" stroke-linecap="round" stroke-linejoin="round"/>
<path d="M291.6,564.8 L343.9,564.8" fill="none" stroke="#3ebee6" stroke-width="2.0" stroke-linecap="round" stroke-linejoin="round"/>
<path d="M348.3,512.2 L348.3,610.2" fill="none" stroke="#3ebee6" stroke-width="2.0" stroke-linecap="round" stroke-linejoin="round"/>
<path d="M352.2,510.7 L403.7,510.7" fill="none" stroke="#3ebee6" stroke-width="2.0" stroke-linecap="round" stroke-linejoin="round"/>
<path d="M352.7,538.5 L403.7,538.5" fill="none" stroke="#3ebee6" stroke-width="2.0" stroke-linecap="round" stroke-linejoin="round"/>
<path d="M408.1,512.2 L408.1,618.4" fill="none" stroke="#3ebee6" stroke-width="2.0" stroke-linecap="round" stroke-linejoin="round"/>
<path d="M411.4,512.2 L444.4,539" fill="none" stroke="#3ebee6" stroke-width="2.0" stroke-linecap="round" stroke-linejoin="round"/>
<path d="M412,541.1 L441.9,567.4" fill="none" stroke="#3ebee6" stroke-width="2.0" stroke-linecap="round" stroke-linejoin="round"/>
<path d="M445.5,545 L445.5,658.4" fill="none" stroke="#3ebee6" stroke-width="2.0" stroke-linecap="round" stroke-linejoin="round"/>
<path d="M412,622.3 L441.1,654.5" fill="none" stroke="#3ebee6" stroke-width="2.0" stroke-linecap="round" stroke-linejoin="round"/>
<path d="M110.5,616.4 L132.4,616.4" fill="none" stroke="#3ebee6" stroke-width="2.0" stroke-linecap="round" stroke-linejoin="round"/>
<path d="M146.4,634.6 L131.3,661.5" fill="none" stroke="#3ebee6" stroke-width="2.0" stroke-linecap="round" stroke-linejoin="round"/>
<path d="M228.6,616.3 L251.8,616.3" fill="none" stroke="#3ebee6" stroke-width="2.0" stroke-linecap="round" stroke-linejoin="round"/>
<path d="M260.8,616.3 L295.5,616.3" fill="none" stroke="#3ebee6" stroke-width="2.0" stroke-linecap="round" stroke-linejoin="round"/>
<path d="M350.9,616.3 L367.6,616.3" fill="none" stroke="#3ebee6" stroke-width="2.0" stroke-linecap="round" stroke-linejoin="round"/>
<path d="M361.2,622.3 L383.1,660.9" fill="none" stroke="#3ebee6" stroke-width="2.0" stroke-linecap="round" stroke-linejoin="round"/>
<path d="M182.2,646.2 L249.2,646.2" fill="none" stroke="#3ebee6" stroke-width="2.0" stroke-linecap="round" stroke-linejoin="round"/>
<path d="M263.4,646.2 L310.9,646.2" fill="none" stroke="#3ebee6" stroke-width="2.0" stroke-linecap="round" stroke-linejoin="round"/>
<path d="M344.4,646.2 L354.7,646.2" fill="none" stroke="#3ebee6" stroke-width="2.0" stroke-linecap="round" stroke-linejoin="round"/>
<path d="M116.1,524.1 L122.5,520.6" fill="none" stroke="#3ebee6" stroke-width="2.0" stroke-linecap="round" stroke-linejoin="round"/>
<path d="M116.3,531.2 L137.1,518.7" fill="none" stroke="#3ebee6" stroke-width="2.0" stroke-linecap="round" stroke-linejoin="round"/>
<path d="M131.7,527.2 L138,523.6" fill="none" stroke="#3ebee6" stroke-width="2.0" stroke-linecap="round" stroke-linejoin="round"/>
<path d="M298.3,551.8 L304.6,548" fill="none" stroke="#3ebee6" stroke-width="2.0" stroke-linecap="round" stroke-linejoin="round"/>
<path d="M298.7,558.9 L319.2,545.9" fill="none" stroke="#3ebee6" stroke-width="2.0" stroke-linecap="round" stroke-linejoin="round"/>
<path d="M313.8,554.9 L320.4,550.8" fill="none" stroke="#3ebee6" stroke-width="2.0" stroke-linecap="round" stroke-linejoin="round"/>
<path d="M413.6,530.5 L417,527.6" fill="none" stroke="#3ebee6" stroke-width="2.0" stroke-linecap="round" stroke-linejoin="round"/>
<path d="M413.6,536.3 L424.5,525.4" fill="none" stroke="#3ebee6" stroke-width="2.0" stroke-linecap="round" stroke-linejoin="round"/>
<path d="M421,533.1 L424.5,529.9" fill="none" stroke="#3ebee6" stroke-width="2.0" stroke-linecap="round" stroke-linejoin="round"/>
<path d="M257,599 L257,658.4" fill="none" stroke="#1f4597" stroke-width="2.0" stroke-linecap="round" stroke-linejoin="round"/>
<path d="M248.9,580.6 A2.4,2.4 0 1 1 249,584.4" fill="none" stroke="#1f4597" stroke-width="2.1" stroke-linecap="round" stroke-linejoin="round"/>
<path d="M 143.5,604.6 Q 138.2,602.1 138.7,596.4 Q 139.8,590.6 144.4,590.6 Q 149.7,591.1 150.1,597.2 Q 149.7,603.0 145.6,604.9" fill="none" stroke="#1f4597" stroke-width="2.0" stroke-linecap="round" stroke-linejoin="round"/>
<path d="M 144.4,605.4 L 144.4,613.2" fill="none" stroke="#1f4597" stroke-width="2.0" stroke-linecap="round" stroke-linejoin="round"/>
<path d="M 156.3,609.2 Q 154.3,603.8 158.0,600.0 Q 162.9,598.8 165.1,603.8 Q 166.2,610.4 160.4,613.7" fill="none" stroke="#3ebee6" stroke-width="2.0" stroke-linecap="round" stroke-linejoin="round"/>
<path d="M 144.4,617.8 Q 143.5,624.4 148.1,624.4 Q 151.7,623.6 153.8,619.8" fill="none" stroke="#3ebee6" stroke-width="2.0" stroke-linecap="round" stroke-linejoin="round"/>
<path d="M 152.2,619.1 Q 154.7,616.5 157.6,617.8" fill="none" stroke="#1f4597" stroke-width="2.0" stroke-linecap="round" stroke-linejoin="round"/>
<path d="M 155.0,622.4 Q 157.1,619.4 159.3,621.9" fill="none" stroke="#1f4597" stroke-width="2.0" stroke-linecap="round" stroke-linejoin="round"/>
<path d="M 158.8,628.5 Q 158.0,644.2 152.2,655.7 Q 147.3,661.5 145.6,664.8 Q 149.7,666.4 151.0,669.7" fill="none" stroke="#1f4597" stroke-width="2.0" stroke-linecap="round" stroke-linejoin="round"/>
<path d="M 169.5,617.8 L 168.7,632.6" fill="none" stroke="#1f4597" stroke-width="2.0" stroke-linecap="round" stroke-linejoin="round"/>
<path d="M 167.5,640.1 Q 174.4,649.1 177.4,654.1 Q 178.6,660.7 177.7,668.1 Q 179.4,668.6 180.7,670.9" fill="none" stroke="#1f4597" stroke-width="2.0" stroke-linecap="round" stroke-linejoin="round"/>
<path d="M 170.3,614.2 Q 177.7,620.3 187.3,618.1" fill="none" stroke="#3ebee6" stroke-width="2.0" stroke-linecap="round" stroke-linejoin="round"/>
<circle cx="142.31" cy="594.72" r="0.75" fill="#3ebee6"/>
<circle cx="142.31" cy="597.20" r="0.75" fill="#3ebee6"/>
<circle cx="142.31" cy="599.67" r="0.75" fill="#3ebee6"/>
<circle cx="144.78" cy="593.90" r="0.75" fill="#3ebee6"/>
<circle cx="144.78" cy="596.37" r="0.75" fill="#3ebee6"/>
<circle cx="144.78" cy="598.84" r="0.75" fill="#3ebee6"/>
<circle cx="144.78" cy="601.32" r="0.75" fill="#3ebee6"/>
<circle cx="147.25" cy="594.72" r="0.75" fill="#3ebee6"/>
<circle cx="147.25" cy="597.20" r="0.75" fill="#3ebee6"/>
<circle cx="147.25" cy="599.67" r="0.75" fill="#3ebee6"/>
<path d="M211.8,580.6 Q208.3,575 210.5,569.5 Q213,567 216.5,568.7 Q219.8,571.5 219,576 Q217.8,580.5 215.5,581" fill="none" stroke="#3ebee6" stroke-width="2.0" stroke-linecap="round" stroke-linejoin="round"/>
<path d="M201.5,579.5 Q205,578 204.3,574.9 Q204.3,571.5 207.2,571.5" fill="none" stroke="#3ebee6" stroke-width="2.0" stroke-linecap="round" stroke-linejoin="round"/>
<path d="M199.7,588.7 Q203.8,584.1 219.2,585.8" fill="none" stroke="#1f4597" stroke-width="2.0" stroke-linecap="round" stroke-linejoin="round"/>
<path d="M198,592.7 Q196.3,599 198,604.7" fill="none" stroke="#3ebee6" stroke-width="2.0" stroke-linecap="round" stroke-linejoin="round"/>
<path d="M201.5,596.7 L200.9,604.7" fill="none" stroke="#1f4597" stroke-width="2.0" stroke-linecap="round" stroke-linejoin="round"/>
<path d="M215.8,594.4 Q214.7,599 215.2,603" fill="none" stroke="#1f4597" stroke-width="2.0" stroke-linecap="round" stroke-linejoin="round"/>
<path d="M221,590.4 Q221,599 229,602.4" fill="none" stroke="#3ebee6" stroke-width="2.0" stroke-linecap="round" stroke-linejoin="round"/>
<path d="M197.8,606.4 Q200.9,611.6 203.8,612.2 Q208.3,613.9 207.8,619.6 Q206.1,624.8 200.9,624.2 Q196.3,621.9 197.5,615" fill="none" stroke="#1f4597" stroke-width="2.0" stroke-linecap="round" stroke-linejoin="round"/>
<path d="M213.5,606.4 Q219.2,613.9 220.4,619.6 Q219.5,626 217,632.2" fill="none" stroke="#1f4597" stroke-width="2.0" stroke-linecap="round" stroke-linejoin="round"/>
<path d="M200.3,628.2 L197.5,635.1" fill="none" stroke="#1f4597" stroke-width="2.0" stroke-linecap="round" stroke-linejoin="round"/>
<path d="M196.3,638 Q201.5,639.5 204.3,636.3" fill="none" stroke="#3ebee6" stroke-width="2.0" stroke-linecap="round" stroke-linejoin="round"/>
<path d="M214.7,635.1 Q219.8,636.3 224.4,632.8" fill="none" stroke="#3ebee6" stroke-width="2.0" stroke-linecap="round" stroke-linejoin="round"/>
<circle cx="202" cy="617.9" r="0.65" fill="#3ebee6"/>
<circle cx="200.5" cy="616.5" r="0.65" fill="#3ebee6"/>
<circle cx="203.5" cy="616.5" r="0.65" fill="#3ebee6"/>
<circle cx="200.5" cy="619.3" r="0.65" fill="#3ebee6"/>
<circle cx="203.5" cy="619.3" r="0.65" fill="#3ebee6"/>
<path d="M306.5,618.1 Q299.5,614 299,609.5 Q299.5,603.8 304.5,603.5 Q310,603.8 311.6,609.5 Q312,614.5 309.5,617.5 Q307.5,620.5 308.8,624.4" fill="none" stroke="#1f4597" stroke-width="2.0" stroke-linecap="round" stroke-linejoin="round"/>
<path d="M308.8,625.5 Q312.2,628.3 316.2,626 Q317.5,624 316.8,622.1" fill="none" stroke="#3ebee6" stroke-width="2.0" stroke-linecap="round" stroke-linejoin="round"/>
<path d="M322.8,610.3 Q319.5,607 320.5,602 Q323,597.5 327.5,598 Q332,599 332.2,604 Q332,608.5 329,610" fill="none" stroke="#3ebee6" stroke-width="2.0" stroke-linecap="round" stroke-linejoin="round"/>
<path d="M317.4,620.4 Q318,614.7 322.5,613.5" fill="none" stroke="#1f4597" stroke-width="2.0" stroke-linecap="round" stroke-linejoin="round"/>
<path d="M332.8,612.4 Q342,616.4 342.6,624.4 Q342.5,632 338.6,636.4" fill="none" stroke="#3ebee6" stroke-width="2.0" stroke-linecap="round" stroke-linejoin="round"/>
<path d="M321.4,621 L323.7,634.2" fill="none" stroke="#1f4597" stroke-width="2.0" stroke-linecap="round" stroke-linejoin="round"/>
<path d="M335.1,630.7 L334.6,621.5 Q338.6,621.5 338.6,626.7" fill="none" stroke="#1f4597" stroke-width="2.0" stroke-linecap="round" stroke-linejoin="round"/>
<path d="M323.1,637 Q327.1,640.5 335.1,639.9" fill="none" stroke="#1f4597" stroke-width="2.0" stroke-linecap="round" stroke-linejoin="round"/>
<path d="M323.1,642.2 Q315.5,651 317.9,656.5 Q320.5,661 323.7,665.7" fill="none" stroke="#1f4597" stroke-width="2.0" stroke-linecap="round" stroke-linejoin="round"/>
<path d="M336.9,641.6 Q332,651 334.6,656.5 Q338,661 340.9,663.4" fill="none" stroke="#1f4597" stroke-width="2.0" stroke-linecap="round" stroke-linejoin="round"/>
<path d="M316.8,666.3 Q320.8,669.3 326.5,669.1" fill="none" stroke="#3ebee6" stroke-width="2.0" stroke-linecap="round" stroke-linejoin="round"/>
<path d="M332.8,669.1 Q338.6,669.3 342,665.7" fill="none" stroke="#3ebee6" stroke-width="2.0" stroke-linecap="round" stroke-linejoin="round"/>
<circle cx="303" cy="607" r="0.65" fill="#3ebee6"/>
<circle cx="303" cy="609.5" r="0.65" fill="#3ebee6"/>
<circle cx="303" cy="612" r="0.65" fill="#3ebee6"/>
<circle cx="305.3" cy="606.5" r="0.65" fill="#3ebee6"/>
<circle cx="305.3" cy="609" r="0.65" fill="#3ebee6"/>
<circle cx="305.3" cy="611.5" r="0.65" fill="#3ebee6"/>
<circle cx="307.3" cy="607.5" r="0.65" fill="#3ebee6"/>
<circle cx="307.3" cy="610" r="0.65" fill="#3ebee6"/>
<circle cx="307.3" cy="612.5" r="0.65" fill="#3ebee6"/>
<path d="M386.5,581.2 Q379,577 380,572 Q381.5,566.5 385.5,566.5 Q390,567 390.5,571 Q390.5,575 389.4,578.3" fill="none" stroke="#3ebee6" stroke-width="2.0" stroke-linecap="round" stroke-linejoin="round"/>
<path d="M391.7,569.5 Q393,565 396,566 Q398,569 394.8,572 Q397,573.5 399.5,572" fill="none" stroke="#3ebee6" stroke-width="2.0" stroke-linecap="round" stroke-linejoin="round"/>
<path d="M394,570.3 L394.6,574.9" fill="none" stroke="#3ebee6" stroke-width="2.0" stroke-linecap="round" stroke-linejoin="round"/>
<path d="M375.6,588.1 Q376.8,583.5 381.4,584.1" fill="none" stroke="#1f4597" stroke-width="2.0" stroke-linecap="round" stroke-linejoin="round"/>
<path d="M390.5,583.5 Q396.3,584.1 397.4,588.1" fill="none" stroke="#1f4597" stroke-width="2.0" stroke-linecap="round" stroke-linejoin="round"/>
<path d="M376.2,589.8 Q374.5,593.3 375.1,594.4" fill="none" stroke="#3ebee6" stroke-width="2.0" stroke-linecap="round" stroke-linejoin="round"/>
<path d="M379.7,592.7 Q382,596.7 382,601.3" fill="none" stroke="#1f4597" stroke-width="2.0" stroke-linecap="round" stroke-linejoin="round"/>
<path d="M394.3,598.2 L394.8,591 L395.9,597" fill="none" stroke="#1f4597" stroke-width="2.0" stroke-linecap="round" stroke-linejoin="round"/>
<path d="M399.7,596.1 Q399.7,604.7 388.3,605.3" fill="none" stroke="#3ebee6" stroke-width="2.0" stroke-linecap="round" stroke-linejoin="round"/>
<path d="M374.5,603.8 Q367.6,608.2 363,603.6 Q360.7,597.8 367.6,596.7 Q374.5,596.7 376.2,601.3 Q378,604.2 384.2,604.2" fill="none" stroke="#1f4597" stroke-width="2.0" stroke-linecap="round" stroke-linejoin="round"/>
<path d="M380.2,610.5 Q375.6,617.3 379.1,623.1 Q382,626 383.1,627.1" fill="none" stroke="#1f4597" stroke-width="2.0" stroke-linecap="round" stroke-linejoin="round"/>
<path d="M394.6,608.2 Q395.1,613.9 391.7,617.3 Q397.4,621.9 400.3,625.9" fill="none" stroke="#1f4597" stroke-width="2.0" stroke-linecap="round" stroke-linejoin="round"/>
<path d="M375.6,629.4 Q376.8,631.1 382.5,630.5" fill="none" stroke="#1f4597" stroke-width="2.0" stroke-linecap="round" stroke-linejoin="round"/>
<path d="M393.4,629.4 Q395.1,631.1 402,629.4" fill="none" stroke="#1f4597" stroke-width="2.0" stroke-linecap="round" stroke-linejoin="round"/>
<circle cx="365.5" cy="600" r="0.65" fill="#3ebee6"/>
<circle cx="367.5" cy="599" r="0.65" fill="#3ebee6"/>
<circle cx="369.5" cy="599.5" r="0.65" fill="#3ebee6"/>
<circle cx="371.5" cy="600.5" r="0.65" fill="#3ebee6"/>
<circle cx="366.5" cy="602" r="0.65" fill="#3ebee6"/>
<circle cx="368.5" cy="601.5" r="0.65" fill="#3ebee6"/>
<circle cx="370.5" cy="602" r="0.65" fill="#3ebee6"/>
<circle cx="372.5" cy="602.5" r="0.65" fill="#3ebee6"/>
</svg>
</body></html>
